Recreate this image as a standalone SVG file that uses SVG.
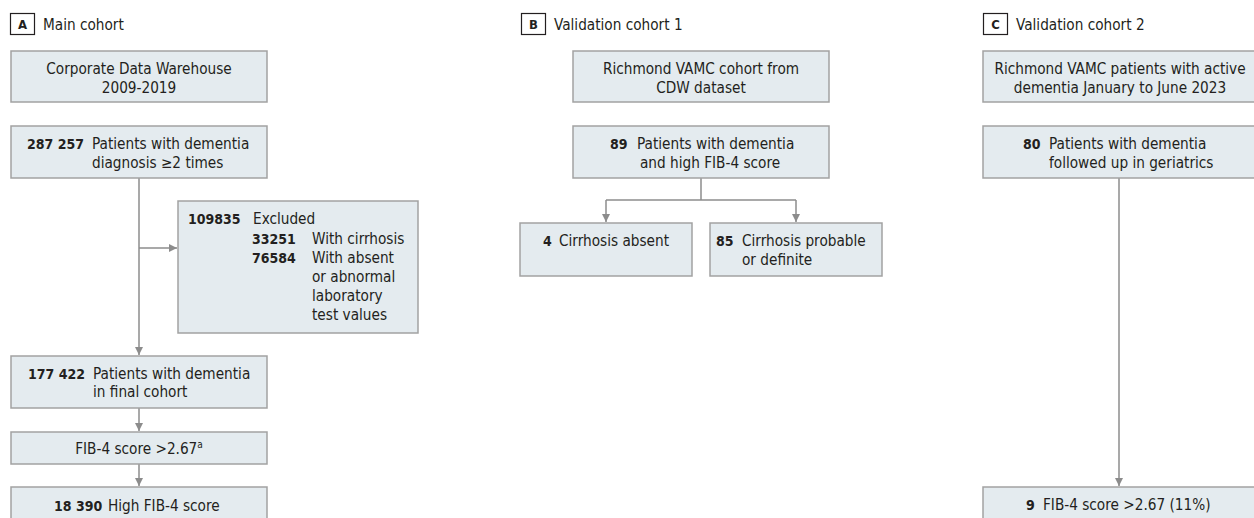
<svg xmlns="http://www.w3.org/2000/svg" width="1254" height="518" viewBox="0 0 1254 518">
<defs>
<style>
text{font-family:"DejaVu Sans Condensed","Liberation Sans",sans-serif;font-size:15.2px;fill:#231f20}
.b{font-weight:bold;font-size:14px}
.c{text-anchor:middle}
.box{fill:#e4ebef;stroke:#a2a2a2;stroke-width:1.5}
.lab{fill:#fff;stroke:#231f20;stroke-width:1.2}
.labt{font-size:13px;font-weight:bold;text-anchor:middle}
.ln{fill:none;stroke:#8c8c8c;stroke-width:1.5}
</style>
<marker id="ah" markerWidth="10" markerHeight="10" refX="9" refY="5" orient="auto" markerUnits="userSpaceOnUse">
<path d="M1,1 L9,5 L1,9 Z" fill="#8c8c8c"/>
</marker>
</defs>
<rect width="1254" height="518" fill="#fff"/>

<g id="labelA"><rect class="lab" x="10.5" y="13.5" width="24" height="21"/><text class="labt" x="22.5" y="29">A</text><text x="43" y="29.5">Main cohort</text></g>
<g id="labelB"><rect class="lab" x="521.5" y="13.5" width="24" height="21"/><text class="labt" x="533.5" y="29">B</text><text x="554" y="29.5">Validation cohort 1</text></g>
<g id="labelC"><rect class="lab" x="983.5" y="13.5" width="24" height="21"/><text class="labt" x="995.5" y="29">C</text><text x="1016" y="29.5">Validation cohort 2</text></g>

<g id="connectors">
<path class="ln" d="M139,178 V355" marker-end="url(#ah)"/>
<path class="ln" d="M139,248 H177" marker-end="url(#ah)"/>
<path class="ln" d="M139,408 V431" marker-end="url(#ah)"/>
<path class="ln" d="M139,464 V486" marker-end="url(#ah)"/>
<path class="ln" d="M701,178 V200"/>
<path class="ln" d="M606,200 H796"/>
<path class="ln" d="M606,200 V222" marker-end="url(#ah)"/>
<path class="ln" d="M796,200 V222" marker-end="url(#ah)"/>
<path class="ln" d="M1119,178 V486" marker-end="url(#ah)"/>
</g>

<g id="a1"><rect class="box" x="11" y="51" width="256" height="51"/><text class="c" x="139" y="74">Corporate Data Warehouse</text><text class="c" x="139" y="93">2009-2019</text></g>
<g id="a2"><rect class="box" x="11" y="126" width="256" height="52"/><text class="b" x="27" y="149">287 257</text><text x="92" y="149">Patients with dementia</text><text x="92" y="168">diagnosis ≥2 times</text></g>
<g id="a-excl"><rect class="box" x="178" y="201" width="240" height="132"/>
<text class="b" x="188" y="224">109835</text><text x="253" y="224">Excluded</text>
<text class="b" x="252" y="244">33251</text><text x="312" y="244">With cirrhosis</text>
<text class="b" x="252" y="263">76584</text><text x="312" y="263">With absent</text>
<text x="312" y="282">or abnormal</text><text x="312" y="301">laboratory</text><text x="312" y="320">test values</text></g>
<g id="a3"><rect class="box" x="11" y="356" width="256" height="52"/><text class="b" x="28" y="379">177 422</text><text x="93" y="379">Patients with dementia</text><text x="93" y="397">in final cohort</text></g>
<g id="a4"><rect class="box" x="11" y="432" width="256" height="32"/><text class="c" x="139" y="454">FIB-4 score &gt;2.67<tspan font-size="10" dy="-6">a</tspan></text></g>
<g id="a5"><rect class="box" x="11" y="487" width="256" height="40"/><text class="b" x="54" y="511">18 390</text><text x="108" y="511">High FIB-4 score</text></g>

<g id="b1"><rect class="box" x="573" y="51" width="256" height="51"/><text class="c" x="701" y="74">Richmond VAMC cohort from</text><text class="c" x="701" y="93">CDW dataset</text></g>
<g id="b2"><rect class="box" x="573" y="126" width="256" height="52"/><text class="b" x="610" y="149">89</text><text x="637" y="149">Patients with dementia</text><text x="640" y="168">and high FIB-4 score</text></g>
<g id="b3"><rect class="box" x="520" y="223" width="172" height="53"/><text class="b" x="543" y="246">4</text><text x="559" y="246">Cirrhosis absent</text></g>
<g id="b4"><rect class="box" x="710" y="223" width="172" height="53"/><text class="b" x="716" y="246">85</text><text x="742" y="246">Cirrhosis probable</text><text x="742" y="265">or definite</text></g>

<g id="c1"><rect class="box" x="983" y="51" width="273" height="51"/><text class="c" x="1120" y="74">Richmond VAMC patients with active</text><text class="c" x="1120" y="93">dementia January to June 2023</text></g>
<g id="c2"><rect class="box" x="983" y="126" width="273" height="52"/><text class="b" x="1023" y="149">80</text><text x="1049" y="149">Patients with dementia</text><text x="1049" y="168">followed up in geriatrics</text></g>
<g id="c3"><rect class="box" x="983" y="487" width="273" height="40"/><text class="b" x="1026" y="510">9</text><text x="1043" y="510">FIB-4 score &gt;2.67 (11%)</text></g>
</svg>
